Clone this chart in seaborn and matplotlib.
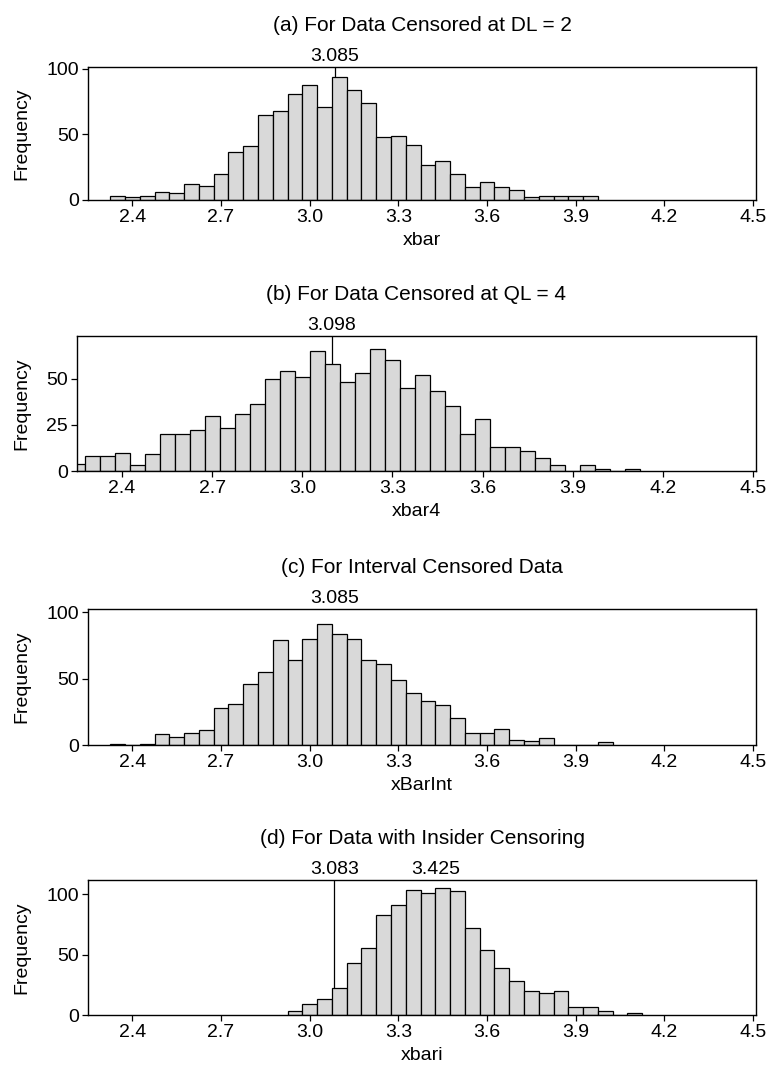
import numpy as np
import pandas as pd
import seaborn as sns
import matplotlib.pyplot as plt

# bin centres (bin width 0.05) and frequencies
centers_a = [2.35, 2.40, 2.45, 2.50, 2.55, 2.60, 2.65, 2.70, 2.75, 2.80, 2.85,
             2.90, 2.95, 3.00, 3.05, 3.10, 3.15, 3.20, 3.25, 3.30, 3.35, 3.40,
             3.45, 3.50, 3.55, 3.60, 3.65, 3.70, 3.75, 3.80, 3.85, 3.90, 3.95]
counts_a = [3, 2, 3, 6, 5, 12, 11, 20, 37, 41, 65,
            68, 81, 88, 71, 94, 84, 74, 48, 49, 42, 27,
            30, 20, 10, 14, 10, 8, 2, 3, 3, 3, 3]

centers_b = [2.25, 2.30, 2.35, 2.40, 2.45, 2.50, 2.55, 2.60, 2.65, 2.70,
             2.75, 2.80, 2.85, 2.90, 2.95, 3.00, 3.05, 3.10, 3.15, 3.20,
             3.25, 3.30, 3.35, 3.40, 3.45, 3.50, 3.55, 3.60, 3.65, 3.70,
             3.75, 3.80, 3.85, 3.90, 3.95, 4.00, 4.05, 4.10]
counts_b = [4, 8, 8, 10, 3, 9, 20, 20, 22, 30,
            23, 31, 36, 50, 54, 51, 65, 58, 48, 53,
            66, 60, 45, 52, 43, 35, 20, 28, 13, 13,
            11, 7, 3, 0, 3, 1, 0, 1]

centers_c = [2.35, 2.40, 2.45, 2.50, 2.55, 2.60, 2.65, 2.70, 2.75, 2.80,
             2.85, 2.90, 2.95, 3.00, 3.05, 3.10, 3.15, 3.20, 3.25, 3.30,
             3.35, 3.40, 3.45, 3.50, 3.55, 3.60, 3.65, 3.70, 3.75, 3.80,
             3.85, 3.90, 3.95, 4.00]
counts_c = [1, 0, 1, 8, 6, 9, 11, 28, 31, 46,
            55, 79, 64, 80, 91, 84, 80, 64, 61, 49,
            39, 33, 30, 20, 9, 9, 12, 4, 3, 5,
            0, 0, 0, 2]

centers_d = [2.95, 3.00, 3.05, 3.10, 3.15, 3.20, 3.25, 3.30, 3.35, 3.40,
             3.45, 3.50, 3.55, 3.60, 3.65, 3.70, 3.75, 3.80, 3.85, 3.90,
             3.95, 4.00, 4.05, 4.10]
counts_d = [3, 9, 13, 22, 43, 56, 83, 91, 104, 101,
            105, 103, 72, 54, 39, 28, 20, 18, 20, 7,
            7, 3, 0, 2]

titles = ['(a) For Data Censored at DL = 2',
          '(b) For Data Censored at QL = 4',
          '(c) For Interval Censored Data',
          '(d) For Data with Insider Censoring']
xlabels = ['xbar', 'xbar4', 'xBarInt', 'xbari']
ymax = [101.5, 73, 102.5, 112]
yticks = [[0, 50, 100], [0, 25, 50], [0, 50, 100], [0, 50, 100]]
# reference values shown above each panel (value, draw line?)
refs = [[(3.085, True)], [(3.098, True)], [(3.085, False)],
        [(3.083, True), (3.425, False)]]
xticks = [2.4, 2.7, 3.0, 3.3, 3.6, 3.9, 4.2, 4.5]

sns.set_style('ticks')
plt.rcParams['font.family'] = ['Liberation Sans', 'DejaVu Sans']
plt.rcParams.update({'text.color': 'black', 'axes.labelcolor': 'black',
                     'xtick.color': 'black', 'ytick.color': 'black'})

W, H = 767, 1070
fig = plt.figure(figsize=(W / 100, H / 100), dpi=100)

# panel boxes in pixels: left, right, top, bottom
boxes = [(88, 756, 67, 200), (77, 756, 336, 471),
         (88, 756, 609, 745), (88, 756, 880, 1015)]

data = [(centers_a, counts_a), (centers_b, counts_b),
        (centers_c, counts_c), (centers_d, counts_d)]

for i, (cx, cy) in enumerate(data):
    l, r, t, b = boxes[i]
    ax = fig.add_axes([l / W, 1 - b / H, (r - l) / W, (b - t) / H])
    df = pd.DataFrame({'x': cx, 'n': cy})
    sns.histplot(data=df, x='x', weights='n', binwidth=0.05,
                 binrange=(min(cx) - 0.025, max(cx) + 0.025), ax=ax,
                 color='#d9d9d9', edgecolor='black', linewidth=0.9,
                 alpha=1, zorder=2)
    for val, line in refs[i]:
        if line:
            ax.axvline(val, color='black', linewidth=0.9, zorder=1)
        ax.annotate(f'{val:.3f}', xy=(val, 1), xycoords=('data', 'axes fraction'),
                    xytext=(0, 4.3), textcoords='offset points',
                    ha='center', va='baseline', fontsize=14)
    ax.set_xlim(2.25, 4.51)
    ax.set_ylim(0, ymax[i])
    ax.set_xticks(xticks)
    ax.set_xticklabels([f'{v:.1f}' for v in xticks])
    ax.set_yticks(yticks[i])
    ax.tick_params(direction='out', length=4, width=0.9, labelsize=14, pad=2.5)
    for s in ax.spines.values():
        s.set_visible(True)
        s.set_linewidth(1.0)
        s.set_color('black')
    ax.set_title(titles[i], pad=26, fontsize=15)
    ax.set_xlabel(xlabels[i], fontsize=14, labelpad=4)
    ax.set_ylabel('Frequency', fontsize=14)
    ax.yaxis.set_label_coords(30 / W, 1 - (t + b) / 2 / H, transform=fig.transFigure)

fig.savefig('out.png', dpi=100)
